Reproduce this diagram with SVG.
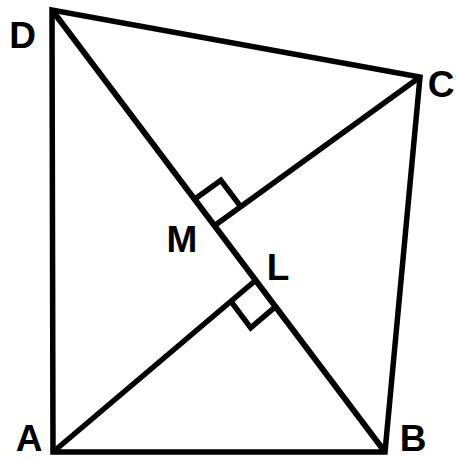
<svg xmlns="http://www.w3.org/2000/svg" width="456" height="459" viewBox="0 0 456 459">
<style>
.ln{fill:none;stroke:#000;stroke-width:5.5;stroke-linejoin:miter;stroke-miterlimit:10}
.lb{font-family:"Liberation Sans",Arial,sans-serif;font-weight:bold;font-size:37px;fill:#000;text-anchor:middle}
</style>
<rect width="456" height="459" fill="#fff"/>
<g id="connectors">
<polygon class="ln" points="53,452 385,452 420,77 52,10"/>
<line class="ln" style="stroke-width:6" x1="52" y1="10" x2="385" y2="452"/>
<line class="ln" x1="420" y1="77" x2="214" y2="226"/>
<line class="ln" x1="53" y1="452" x2="256" y2="280"/>
<polyline class="ln" points="194.2,199.6 220.9,180.3 240.7,206.7"/>
<polyline class="ln" points="230.9,301.4 250.7,327.8 275.8,306.4"/>
</g>
<g id="D"><text class="lb" x="22.5" y="48">D</text></g>
<g id="C"><text class="lb" x="441" y="97">C</text></g>
<g id="M"><text class="lb" x="182" y="252">M</text></g>
<g id="L"><text class="lb" x="278" y="280">L</text></g>
<g id="A"><text class="lb" x="29" y="451">A</text></g>
<g id="B"><text class="lb" x="413" y="451">B</text></g>
</svg>
